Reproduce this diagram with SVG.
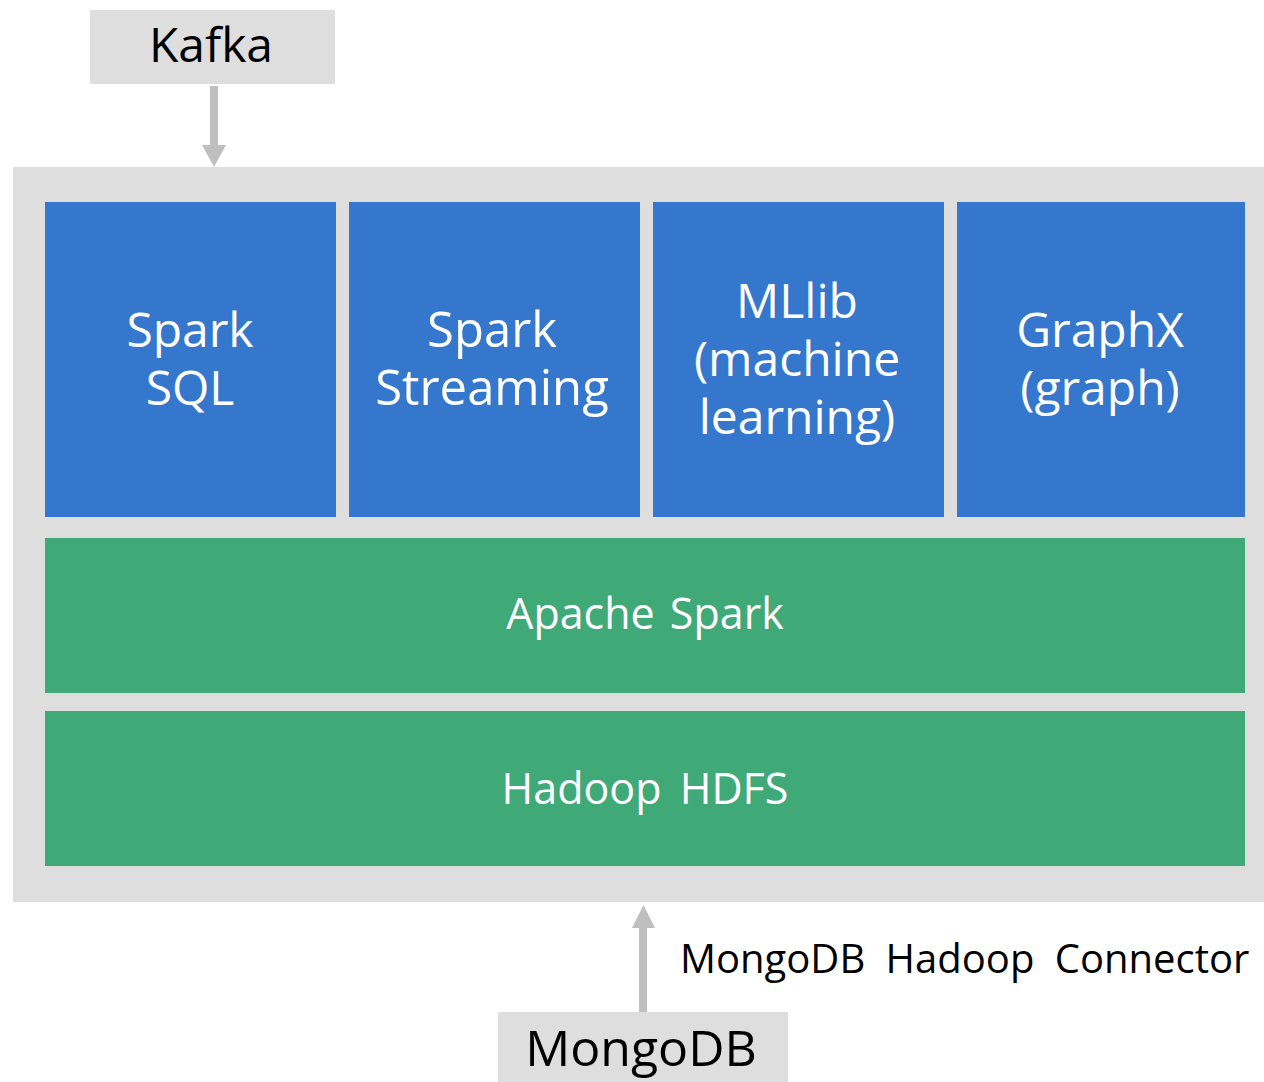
<svg xmlns="http://www.w3.org/2000/svg" width="1264" height="1082" viewBox="0 0 1264 1082">
<style>
.gray{fill:#DEDEDE}
.blue{fill:#3477CC}
.green{fill:#3FA978}
.wt{fill:#FFFFFF;font-family:"Open Sans","Noto Sans",sans-serif;text-anchor:middle}
.bt{fill:#000000;font-family:"Open Sans","Noto Sans",sans-serif}
.conn{stroke:#BFBFBF;stroke-width:8;fill:none}
.head{fill:#BFBFBF}
</style>
<rect width="1264" height="1082" fill="#FFFFFF"/>
<g id="container"><rect class="gray" x="13" y="167" width="1251" height="735"/></g>
<g id="kafka"><rect class="gray" x="90" y="10" width="245" height="74"/><text class="bt" x="211" y="62" font-size="48" text-anchor="middle">Kafka</text></g>
<g id="spark-sql"><rect class="blue" x="45" y="202" width="291" height="315"/><text class="wt" font-size="48"><tspan x="190" y="347">Spark</tspan><tspan x="190" y="405">SQL</tspan></text></g>
<g id="spark-streaming"><rect class="blue" x="349" y="202" width="291" height="315"/><text class="wt" font-size="49"><tspan x="492" y="347">Spark</tspan><tspan x="492" y="405">Streaming</tspan></text></g>
<g id="mllib"><rect class="blue" x="653" y="202" width="291" height="315"/><text class="wt" font-size="48"><tspan x="797" y="318">MLlib</tspan><tspan x="797" y="376">(machine</tspan><tspan x="797" y="434">learning)</tspan></text></g>
<g id="graphx"><rect class="blue" x="957" y="202" width="288" height="315"/><text class="wt" font-size="48"><tspan x="1100" y="347">GraphX</tspan><tspan x="1100" y="405">(graph)</tspan></text></g>
<g id="apache-spark"><rect class="green" x="45" y="538" width="1200" height="155"/><text class="wt" x="645" y="629" font-size="43" word-spacing="4">Apache Spark</text></g>
<g id="hadoop-hdfs"><rect class="green" x="45" y="711" width="1200" height="155"/><text class="wt" x="645" y="804" font-size="43" word-spacing="7">Hadoop HDFS</text></g>
<g id="mongodb"><rect class="gray" x="498" y="1012" width="290" height="70"/><text class="bt" x="641" y="1066" font-size="50" text-anchor="middle">MongoDB</text></g>
<g id="connectors">
<line class="conn" x1="214" y1="86" x2="214" y2="146"/><polygon class="head" points="202,145 226,145 214,167"/>
<line class="conn" x1="643" y1="1012" x2="643" y2="927"/><polygon class="head" points="632,928 655,928 643.5,905"/>
<text class="bt" x="680" y="973" font-size="40" word-spacing="10">MongoDB Hadoop Connector</text>
</g>
</svg>
